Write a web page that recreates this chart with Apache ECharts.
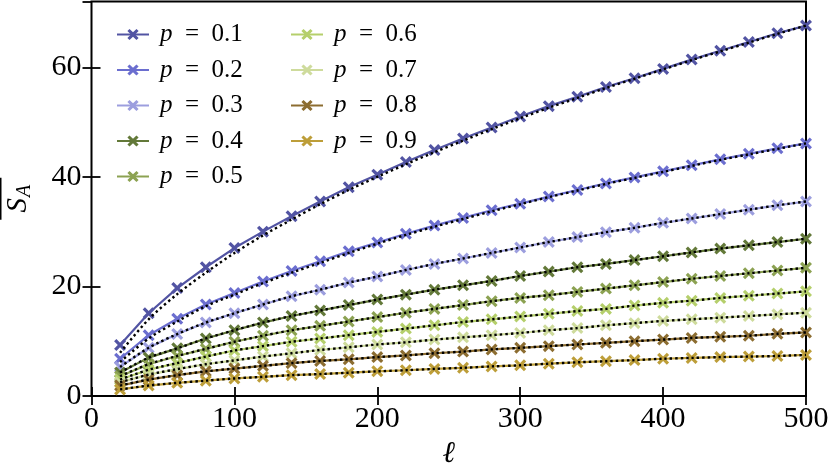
<!DOCTYPE html>
<html>
<head>
<meta charset="utf-8">
<script src="https://cdn.jsdelivr.net/npm/echarts@6/dist/echarts.min.js"></script>
<style>
html,body{margin:0;padding:0;background:#fff;}
#chart{width:830px;height:469px;}
</style>
</head>
<body>
<div id="chart"></div>
<script>
// ---- data ----
const ells = [20,40,60,80,100,120,140,160,180,200,220,240,260,280,300,320,340,360,380,400,420,440,460,480,500];
const pLabels = ['p = 0.1','p = 0.2','p = 0.3','p = 0.4','p = 0.5','p = 0.6','p = 0.7','p = 0.8','p = 0.9'];
const p01 = [9.3,15.1,19.7,23.5,27.0,30.0,32.8,35.5,38.1,40.4,42.7,44.9,47.0,49.0,51.0,52.9,54.6,56.4,58.0,59.7,61.4,63.0,64.6,66.2,67.6];
const p02 = [6.8,11.1,14.1,16.7,18.8,20.9,22.8,24.6,26.4,28.0,29.6,31.1,32.5,33.9,35.1,36.4,37.6,38.8,39.9,41.0,42.1,43.2,44.2,45.2,46.1];
const p03 = [5.3,8.8,11.3,13.4,15.1,16.7,18.2,19.4,20.7,21.8,23.0,24.1,25.1,26.1,27.1,28.1,29.0,29.9,30.7,31.6,32.4,33.2,34.0,34.8,35.5];
const p04 = [4.3,7.0,8.7,10.5,12.0,13.4,14.6,15.6,16.6,17.6,18.5,19.4,20.2,21.0,21.9,22.7,23.5,24.1,24.8,25.5,26.2,26.9,27.5,28.1,28.7];
const p05 = [3.6,5.8,7.3,8.6,9.9,11.0,12.0,12.8,13.6,14.4,15.2,15.9,16.6,17.3,17.9,18.4,19.0,19.6,20.2,20.8,21.4,21.9,22.4,22.9,23.4];
const p06 = [3.0,4.8,6.0,7.2,8.3,9.1,9.9,10.5,11.1,11.7,12.3,12.9,13.5,14.0,14.5,15.0,15.5,15.9,16.5,17.0,17.4,17.9,18.3,18.7,19.1];
const p07 = [2.5,3.9,4.9,5.8,6.5,7.2,7.8,8.4,8.9,9.4,9.8,10.3,10.7,11.1,11.5,12.0,12.4,12.9,13.3,13.7,14.0,14.3,14.6,14.9,15.2];
const p08 = [1.9,3.0,3.8,4.5,5.0,5.5,6.0,6.4,6.7,7.1,7.4,7.8,8.1,8.5,8.8,9.1,9.4,9.7,10.0,10.3,10.6,10.8,11.0,11.35,11.6];
const p09 = [1.2,1.9,2.4,2.8,3.2,3.5,3.8,4.0,4.25,4.5,4.7,4.95,5.15,5.4,5.6,5.9,6.15,6.35,6.55,6.8,6.95,7.1,7.2,7.3,7.5];
// dotted fit curves
const fit01 = [7.9,14.0,18.6,22.5,26.1,29.3,32.2,35.0,37.6,40.0,42.3,44.5,46.6,48.7,50.7,52.6,54.4,56.2,57.9,59.6,61.3,62.9,64.5,66.1,67.6];
const fit02 = [6.2,10.5,13.6,16.4,18.5,20.6,22.5,24.3,26.1,27.8,29.4,30.9,32.3,33.7,35.0,36.3,37.5,38.7,39.8,40.9,42.0,43.1,44.1,45.1,46.1];
const fit03 = p03, fit04 = p04, fit05 = p05, fit06 = p06, fit07 = p07, fit08 = p08, fit09 = p09;
const xTicks = [0,100,200,300,400,500];
const yTicks = [0,20,40,60];

const dataSets = [p01,p02,p03,p04,p05,p06,p07,p08,p09];
const fitSets = [fit01,fit02,fit03,fit04,fit05,fit06,fit07,fit08,fit09];
const colors = ['#5254a3','#6b6ecf','#9c9ede','#637939','#8ca252','#b5cf6b','#cedb9c','#8c6d31','#bd9e39'];

const SERIF = 'Liberation Serif';
const xMark = 'path://M0,1.9 L1.9,0 L5,3.1 L8.1,0 L10,1.9 L6.9,5 L10,8.1 L8.1,10 L5,6.9 L1.9,10 L0,8.1 L3.1,5 Z';

const series = [];
dataSets.forEach((arr, k) => {
  series.push({
    name: pLabels[k], type: 'line', xAxisIndex: 0, yAxisIndex: 0,
    data: ells.map((x, i) => [x, arr[i]]),
    symbol: xMark, symbolSize: 12, showSymbol: true,
    lineStyle: {color: colors[k], width: 2.2},
    itemStyle: {color: colors[k], borderWidth: 0},
    z: 2 + k * 0.01, silent: true
  });
});
fitSets.forEach((arr, k) => {
  series.push({
    name: 'fit ' + pLabels[k], type: 'line', xAxisIndex: 0, yAxisIndex: 0,
    data: ells.map((x, i) => [x, arr[i]]),
    symbol: 'none', smooth: 0.3,
    lineStyle: {color: '#000', width: 2.4, type: [2.4, 3]},
    z: 5, silent: true
  });
});

const legendText = {
  fontFamily: SERIF, fontSize: 25, color: '#000', lineHeight: 24, padding: [0,0,0,6],
  rich: {i: {fontFamily: SERIF, fontStyle: 'italic', fontSize: 25, lineHeight: 24}}
};
const legendFmt = n => '{i|p}\u2002=\u2002' + n.slice(4);

const chart = echarts.init(document.getElementById('chart'), null, {renderer: 'canvas'});
chart.setOption({
  animation: false,
  backgroundColor: '#fff',
  grid: {left: 91.5, right: 24, top: 1.5, bottom: 73, containLabel: false, outerBoundsMode: 'none',
         show: true, borderColor: '#000', borderWidth: 2, backgroundColor: 'transparent'},
  legend: [
    {data: pLabels.slice(0,5), orient: 'vertical', left: 111, top: 17, itemWidth: 32, itemHeight: 14, itemGap: 10.5,
     formatter: legendFmt, textStyle: legendText, selectedMode: false},
    {data: pLabels.slice(5), orient: 'vertical', left: 285, top: 17, itemWidth: 32, itemHeight: 14, itemGap: 10.5,
     formatter: legendFmt, textStyle: legendText, selectedMode: false}
  ],
  xAxis: [
    {type: 'value', min: 0, max: 500, interval: 100, position: 'bottom',
     name: 'ℓ', nameLocation: 'middle', nameGap: 34,
     nameTextStyle: {fontFamily: SERIF, fontSize: 30, color: '#000', fontStyle: 'italic'},
     axisLine: {show: false}, splitLine: {show: false},
     axisTick: {show: true, inside: true, length: 9, lineStyle: {color: '#000', width: 1.8}},
     axisLabel: {fontFamily: SERIF, fontSize: 30, color: '#000', margin: 8}},
    {type: 'value', min: 0, max: 500, interval: 100, position: 'top',
     axisLine: {show: false}, splitLine: {show: false},
     axisTick: {show: true, inside: true, length: 9, lineStyle: {color: '#000', width: 1.8}},
     axisLabel: {show: false}}
  ],
  yAxis: [
    {type: 'value', min: 0, max: 72, interval: 20, position: 'left',
     name: '{ol| }\n{s|S}{a|A}', nameLocation: 'middle', nameGap: 58, nameRotate: 90,
     nameTextStyle: {align: 'center', color: '#000',
       rich: {
         ol: {width: 42, height: 2, backgroundColor: '#000', fontSize: 4, lineHeight: 6},
         s: {fontFamily: SERIF, fontStyle: 'italic', fontSize: 29, lineHeight: 30, color: '#000'},
         a: {fontFamily: SERIF, fontStyle: 'italic', fontSize: 20, lineHeight: 30, padding: [12,0,0,1], color: '#000'}
       }},
     axisLine: {show: false}, splitLine: {show: false},
     axisTick: {show: true, inside: true, length: 9, lineStyle: {color: '#000', width: 1.8}},
     axisLabel: {fontFamily: SERIF, fontSize: 30, color: '#000', margin: 10, showMaxLabel: false}},
    {type: 'value', min: 0, max: 72, interval: 20, position: 'right',
     axisLine: {show: false}, splitLine: {show: false},
     axisTick: {show: true, inside: true, length: 9, lineStyle: {color: '#000', width: 1.8}},
     axisLabel: {show: false}}
  ],
  series: series
});
</script>
</body>
</html>
